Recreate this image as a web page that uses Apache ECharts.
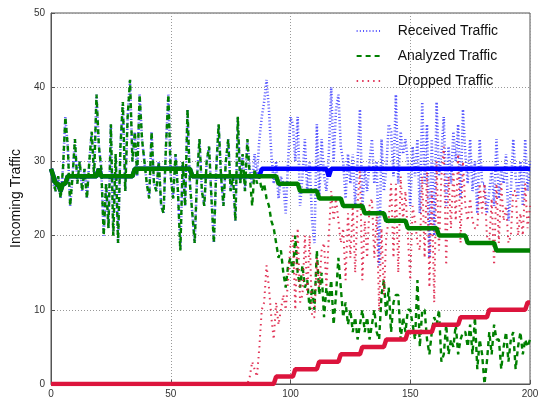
<!DOCTYPE html>
<html>
<head>
<meta charset="utf-8">
<script src="https://cdn.jsdelivr.net/npm/echarts@6/dist/echarts.min.js"></script>
<style>html,body{margin:0;padding:0;background:#fff;}#c{width:543px;height:403px;}</style>
</head>
<body>
<div id="c"></div>
<script>
var xTicks = [0, 50, 100, 150, 200];
var yTicks = [0, 10, 20, 30, 40, 50];
var seriesNames = ['Received Traffic', 'Analyzed Traffic', 'Dropped Traffic'];

var received = [
29,27,26,28,25,29,36,32,24,28,
33,27,30,26,29,25,30,34,28,39,
32,29,20,27,21,35,20,31,19,32,
38,26,36,41,30,34,28,39,33,30,
27,25,34,27,26,30,24,23,32,39,
28,25,31,26,18,30,24,37,27,23,
19,28,33,26,24,30,32,25,19,29,
35,28,24,30,33,26,28,22,36,27,
31,26,33,29,27,31,28,33,36,38,
41,37,31,27,30,25,28,27,23,30,
36,35,30,36,24,28,33,26,30,22,
19,35,25,33,28,26,31,40,30,37,
39,32,30,25,31,27,31,24,30,37,
24,29,26,30,33,27,30,16,33,26,
29,35,34,28,39,27,34,31,33,30,
24,32,28,33,23,38,27,35,17,33,
20,38,28,31,36,24,32,27,34,30,
35,25,37,31,27,33,26,30,23,33,
27,27,23,26,29,24,33,25,29,27,
31,22,26,33,28,25,30,24,33,26,
30];

var analyzed = [
29,27,26,28,25,29,36,32,24,28,
33,27,30,26,29,25,30,34,28,39,
32,29,20,27,21,35,20,31,19,32,
38,26,36,41,30,34,28,39,33,30,
27,25,34,27,26,30,24,23,32,39,
28,25,31,26,18,30,24,37,27,23,
19,28,33,26,24,30,32,25,19,29,
35,28,24,30,33,26,28,22,36,27,
31,26,33,28,24,29,27,28,26,27,
25,24,22,21,19,17,18,15,13,16,
17,15,20,15,13,16,13,14,10,13,
10,18,12,15,9,13,11,14,8,12,
17,13,9,11,8,10,7,9,6,8,
10,7,9,6,8,10,7,6,12,14,
9,13,7,11,12,12,6,9,7,10,
10,8,6,14,5,10,10,6,4,7,
9,8,10,3,4,8,4,6,5,8,
4,6,7,7,5,8,4,9,2,6,
4,0,3,7,4,8,6,6,2,5,
7,3,6,7,2,5,7,4,6,5,
6];

var dropped = [
0,0,0,0,0,0,0,0,0,0,
0,0,0,0,0,0,0,0,0,0,
0,0,0,0,0,0,0,0,0,0,
0,0,0,0,0,0,0,0,0,0,
0,0,0,0,0,0,0,0,0,0,
0,0,0,0,0,0,0,0,0,0,
0,0,0,0,0,0,0,0,0,0,
0,0,0,0,0,0,0,0,0,0,
0,0,0,1,3,2,1,5,10,11,
16,13,9,6,11,8,10,12,10,14,
19,20,10,21,11,12,20,12,20,9,
9,17,13,18,19,13,20,26,22,25,
22,19,21,14,23,17,24,15,24,29,
14,22,17,24,25,17,23,10,21,12,
20,22,27,17,27,15,28,22,26,20,
14,24,22,19,18,28,17,29,13,26,
11,30,18,28,32,16,28,21,29,22,
31,19,30,24,22,25,22,21,21,27,
23,27,20,19,25,16,27,19,27,22,
24,19,20,26,26,20,23,20,27,21,
24];

var avgReceived = [
29,28,27,27,26,27,27,28,28,28,
28,28,28,28,28,28,28,28,28,28,
29,28,28,28,28,28,28,28,28,28,
28,28,28,28,28,29,29,29,29,29,
29,29,29,29,29,29,29,29,29,29,
29,29,29,29,29,29,29,29,29,28,
28,28,28,28,28,28,28,28,28,28,
28,28,28,28,28,28,28,28,28,28,
28,28,28,28,28,28,28,28,29,29,
29,29,29,29,29,29,29,29,29,29,
29,29,29,29,29,29,29,29,29,29,
29,29,29,29,29,29,28,29,29,29,
29,29,29,29,29,29,29,29,29,29,
29,29,29,29,29,29,29,29,29,29,
29,29,29,29,29,29,29,29,29,29,
29,29,29,29,29,29,29,29,29,29,
29,29,29,29,29,29,29,29,29,29,
29,29,29,29,29,29,29,29,29,29,
29,29,29,29,29,29,29,29,29,29,
29,29,29,29,29,29,29,29,29,29,
29];

var avgAnalyzed = [
29,28,27,27,26,27,27,28,28,28,
28,28,28,28,28,28,28,28,28,28,
29,28,28,28,28,28,28,28,28,28,
28,28,28,28,28,29,29,29,29,29,
29,29,29,29,29,29,29,29,29,29,
29,29,29,29,29,29,29,29,29,28,
28,28,28,28,28,28,28,28,28,28,
28,28,28,28,28,28,28,28,28,28,
28,28,28,28,28,28,28,28,28,28,
28,28,28,28,28,27,27,27,27,27,
27,27,27,27,26,26,26,26,26,26,
26,26,25,25,25,25,25,25,25,25,
25,25,24,24,24,24,24,24,24,24,
24,23,23,23,23,23,23,23,23,23,
22,22,22,22,22,22,22,22,22,21,
21,21,21,21,21,21,21,21,21,21,
21,21,20,20,20,20,20,20,20,20,
20,20,20,20,19,19,19,19,19,19,
19,19,19,19,19,19,18,18,18,18,
18,18,18,18,18,18,18,18,18,18,
18];

var avgDropped = [
0,0,0,0,0,0,0,0,0,0,
0,0,0,0,0,0,0,0,0,0,
0,0,0,0,0,0,0,0,0,0,
0,0,0,0,0,0,0,0,0,0,
0,0,0,0,0,0,0,0,0,0,
0,0,0,0,0,0,0,0,0,0,
0,0,0,0,0,0,0,0,0,0,
0,0,0,0,0,0,0,0,0,0,
0,0,0,0,0,0,0,0,0,0,
0,0,0,0,1,1,1,1,1,1,
1,1,2,2,2,2,2,2,2,2,
2,2,3,3,3,3,3,3,3,3,
3,4,4,4,4,4,4,4,4,4,
5,5,5,5,5,5,5,5,5,5,
6,6,6,6,6,6,6,6,6,7,
7,7,7,7,7,7,7,7,7,7,
8,8,8,8,8,8,8,8,8,8,
8,9,9,9,9,9,9,9,9,9,
9,9,9,10,10,10,10,10,10,10,
10,10,10,10,10,10,10,10,10,11,
11];

function pairs(arr) { return arr.map(function (v, i) { return [i, v]; }); }

var FONT = 'Liberation Sans, Arial, sans-serif';
var chart = echarts.init(document.getElementById('c'), null, { renderer: 'canvas' });
chart.setOption({
  animation: false,
  backgroundColor: '#fff',
  grid: { left: 51, right: 13, top: 13, bottom: 19, show: true, borderColor: '#555', borderWidth: 1, backgroundColor: 'transparent' },
  legend: {
    data: seriesNames,
    orient: 'vertical',
    right: 40,
    top: 19,
    itemWidth: 24,
    itemHeight: 12,
    itemGap: 11,
    itemStyle: { opacity: 0 },
    textStyle: { fontFamily: FONT, fontSize: 14, color: '#111', padding: [0, 0, 0, 12] }
  },
  xAxis: {
    type: 'value', min: xTicks[0], max: xTicks[xTicks.length - 1], interval: 50,
    axisLine: { show: true, lineStyle: { color: '#555', width: 1 } },
    axisTick: { show: true, inside: true, length: 4, lineStyle: { color: '#555' } },
    axisLabel: { fontFamily: FONT, fontSize: 10, color: '#333', margin: 5 },
    splitLine: { show: true, lineStyle: { color: '#999', type: [1, 2], width: 1 } }
  },
  yAxis: {
    type: 'value', min: yTicks[0], max: yTicks[yTicks.length - 1], interval: 10,
    name: 'Incoming Traffic', nameLocation: 'middle', nameGap: 22,
    nameTextStyle: { fontFamily: FONT, fontSize: 14, color: '#111' },
    axisLine: { show: true, lineStyle: { color: '#555', width: 1 } },
    axisTick: { show: true, inside: true, length: 4, lineStyle: { color: '#555' } },
    axisLabel: { fontFamily: FONT, fontSize: 10, color: '#333', margin: 6 },
    splitLine: { show: true, lineStyle: { color: '#999', type: [1, 2], width: 1 } }
  },
  series: [
    { name: seriesNames[0], type: 'line', data: pairs(received), symbol: 'none', z: 2,
      lineStyle: { color: '#2a2aff', width: 2.6, type: [1, 2.2], opacity: 0.8 }, itemStyle: { color: '#2a2aff' } },
    { name: seriesNames[1], type: 'line', data: pairs(analyzed), symbol: 'none', z: 3,
      lineStyle: { color: '#008000', width: 2.4, type: [5, 4] }, itemStyle: { color: '#008000' } },
    { name: seriesNames[2], type: 'line', data: pairs(dropped), symbol: 'none', z: 4,
      lineStyle: { color: '#dc143c', width: 2, type: [1.5, 4], opacity: 0.85 }, itemStyle: { color: '#dc143c' } },
    { name: 'avgReceived', type: 'line', data: pairs(avgReceived), symbol: 'none', z: 5,
      lineStyle: { color: '#0000ff', width: 4.5 } },
    { name: 'avgDropped', type: 'line', data: pairs(avgDropped), symbol: 'none', z: 6,
      lineStyle: { color: '#dc143c', width: 4.5 } },
    { name: 'avgAnalyzed', type: 'line', data: pairs(avgAnalyzed), symbol: 'none', z: 7,
      lineStyle: { color: '#008000', width: 4.5 } }
  ]
});
</script>
</body>
</html>
